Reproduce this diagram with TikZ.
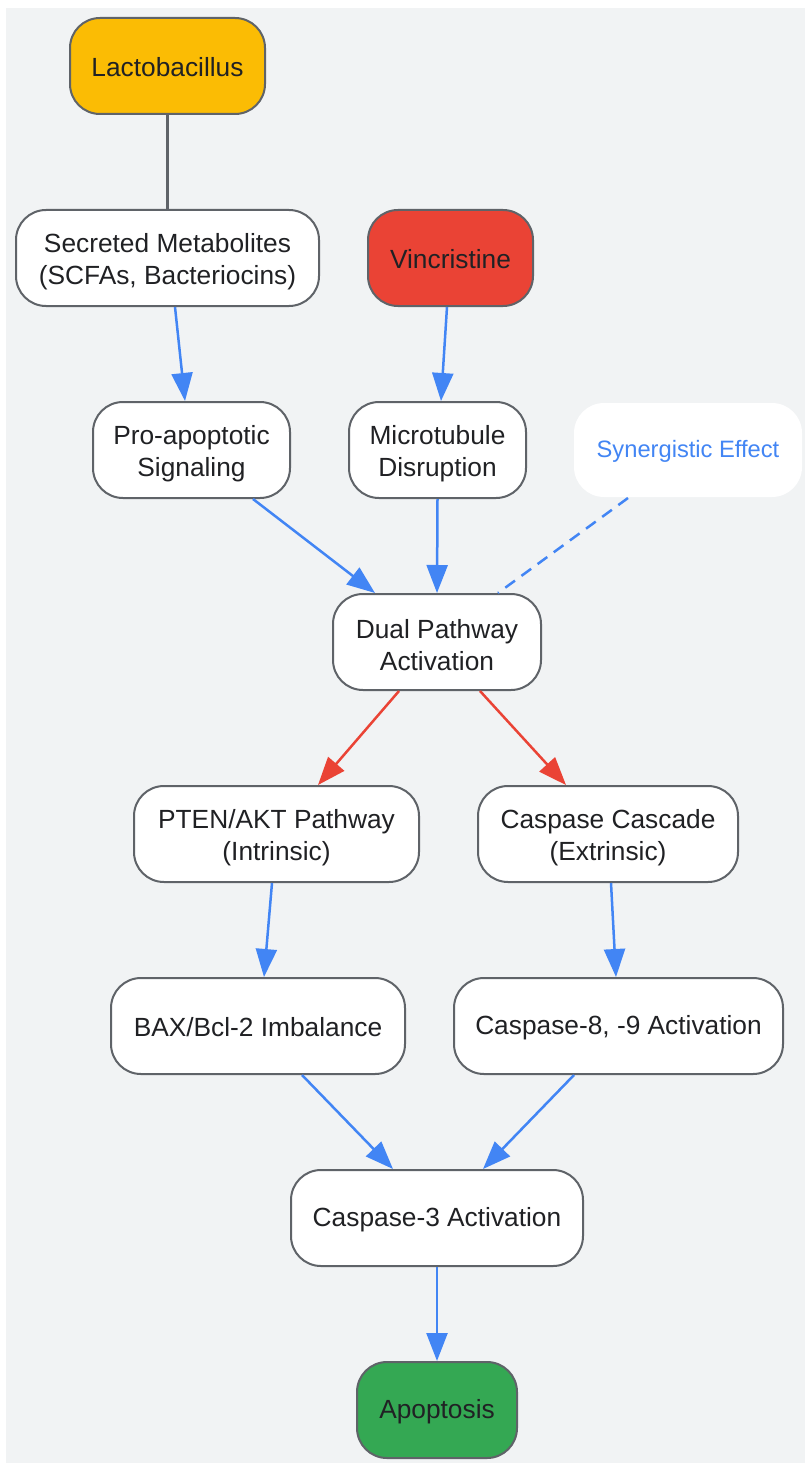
\documentclass[tikz,border=0pt]{standalone}
\usepackage{fontspec}
\setmainfont{Liberation Sans}
\usetikzlibrary{arrows.meta}
\definecolor{bgc}{HTML}{F1F3F4}
\definecolor{bordc}{HTML}{5F6368}
\definecolor{txtc}{HTML}{202124}
\definecolor{bluec}{HTML}{4285F4}
\definecolor{redc}{HTML}{EA4335}
\definecolor{yellowc}{HTML}{FBBC04}
\definecolor{greenc}{HTML}{34A853}
\tikzset{
  box/.style={draw=bordc, line width=2pt, rounded corners=30pt, fill=white,
    inner sep=0pt, minimum height=96pt},
  lbl/.style={text=txtc, align=center, inner sep=0pt, yshift=-3.5pt,
    font=\fontsize{26.3}{32}\selectfont},
  lbla/.style={lbl, yshift=2pt},
  arr/.style={draw=bluec, line width=2.5pt, -{Triangle[length=28pt,width=21pt]}},
  rarr/.style={draw=redc, line width=2.5pt, -{Triangle[length=28pt,width=21pt]}},
}
\begin{document}
\begin{tikzpicture}[x=1pt,y=-1pt]
\useasboundingbox (0,0) rectangle (805,1463);
\fill[bgc] (6,8) rectangle (805,1463);

\node[box, fill=yellowc, minimum width=195pt, label={[lbla]center:Lactobacillus}] (lac) at (167.5,66) {};
\node[box, minimum width=303pt, label={[lbl]center:{Secreted Metabolites\\(SCFAs, Bacteriocins)}}] (sec) at (167.5,258) {};
\node[box, fill=redc, minimum width=165pt, label={[lbla]center:Vincristine}] (vin) at (450.5,258) {};
\node[box, minimum width=197pt, label={[lbl]center:{Pro-apoptotic\\Signaling}}] (pro) at (191.5,450) {};
\node[box, minimum width=177pt, label={[lbl]center:{Microtubule\\Disruption}}] (mic) at (437.5,450) {};
\node[box, draw=none, minimum width=228pt, minimum height=94pt,
  label={[lbl, text=bluec, font=\fontsize{23.7}{28}\selectfont, yshift=2.5pt]center:Synergistic Effect}] (syn) at (688,450) {};
\node[box, minimum width=208pt, label={[lbl]center:{Dual Pathway\\Activation}}] (dual) at (437,642) {};
\node[box, minimum width=285pt, label={[lbl]center:{PTEN/AKT Pathway\\(Intrinsic)}}] (pten) at (276.5,834) {};
\node[box, minimum width=260pt, label={[lbl]center:{Caspase Cascade\\(Extrinsic)}}] (casc) at (608,834) {};
\node[box, minimum width=294pt, label={[lbla]center:BAX/Bcl-2 Imbalance}] (bax) at (258,1026) {};
\node[box, minimum width=329pt, label={[lbla]center:{Caspase-8, -9 Activation}}] (c89) at (618.5,1026) {};
\node[box, minimum width=292pt, label={[lbla]center:Caspase-3 Activation}] (c3) at (437,1218) {};
\node[box, fill=greenc, minimum width=160pt, label={[lbla]center:Apoptosis}] (apo) at (437,1410) {};

\draw[draw=bordc, line width=2.5pt] (lac.south) -- (sec.north);
\draw[arr] ([xshift=7.5pt]sec.south) -- ([xshift=-6.5pt]pro.north);
\draw[arr] ([xshift=-3.5pt]vin.south) -- ([xshift=3.5pt]mic.north);
\draw[arr] ([xshift=61.5pt]pro.south) -- ([xshift=-62pt]dual.north);
\draw[arr] (mic.south) -- (dual.north);
\draw[draw=bluec, line width=2.5pt, dash pattern=on 12pt off 8pt] ([xshift=-60pt]syn.south) -- ([xshift=61pt]dual.north);
\draw[rarr] ([xshift=-38pt]dual.south) -- ([xshift=41.5pt]pten.north);
\draw[rarr] ([xshift=43pt]dual.south) -- ([xshift=-42pt]casc.north);
\draw[arr] ([xshift=-4.5pt]pten.south) -- ([xshift=6pt]bax.north);
\draw[arr] ([xshift=3pt]casc.south) -- ([xshift=-2.5pt]c89.north);
\draw[arr] ([xshift=44pt]bax.south) -- ([xshift=-44pt]c3.north);
\draw[arr] ([xshift=-44.5pt]c89.south) -- ([xshift=46pt]c3.north);
\draw[arr] (c3.south) -- (apo.north);
\end{tikzpicture}
\end{document}
